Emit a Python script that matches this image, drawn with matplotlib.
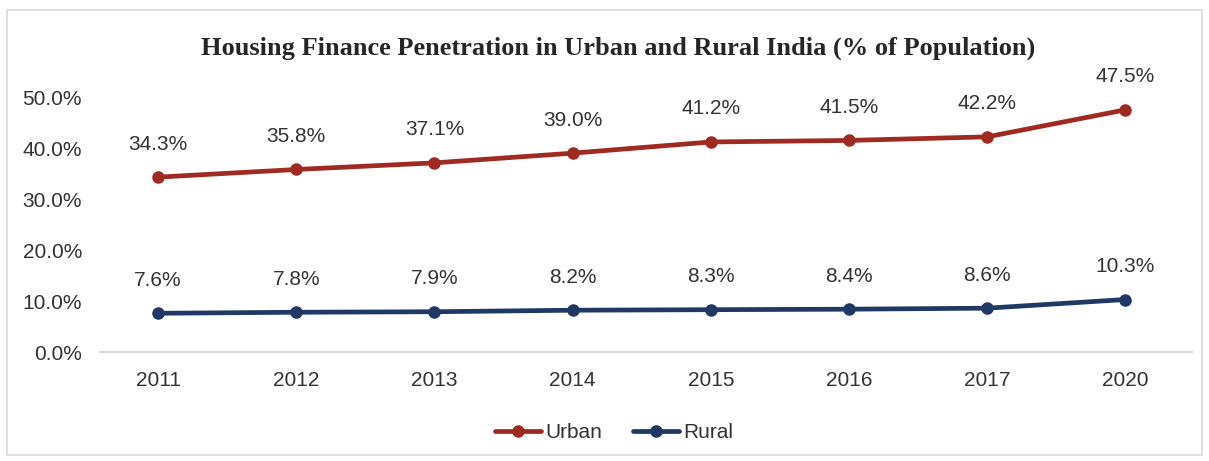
import matplotlib.pyplot as plt
from matplotlib.patches import Rectangle

years = ["2011", "2012", "2013", "2014", "2015", "2016", "2017", "2020"]
urban = [34.3, 35.8, 37.1, 39.0, 41.2, 41.5, 42.2, 47.5]
rural = [7.6, 7.8, 7.9, 8.2, 8.3, 8.4, 8.6, 10.3]
yticks = [0, 10, 20, 30, 40, 50]

plt.rcParams['font.family'] = ['Liberation Sans', 'DejaVu Sans']

fig = plt.figure(figsize=(12.09, 4.61), dpi=100)
ax = fig.add_axes([0.0827, 0.2364, 0.903, 0.553])

# light border round the whole chart
fig.patches.append(Rectangle((0.006, 0.012), 0.988, 0.966, transform=fig.transFigure,
                             fill=False, edgecolor='#d9d9d9', linewidth=1.2))

x = list(range(len(years)))
series = [("Urban", urban, '#9e2a22'), ("Rural", rural, '#1f3864')]
for name, vals, col in series:
    ax.plot(x, vals, color=col, linewidth=3.4, marker='o', markersize=8,
            label=name, solid_capstyle='round')
    for xi, v in zip(x, vals):
        ax.annotate(f"{v:.1f}%", (xi, v), xytext=(0, 17), textcoords='offset points',
                    ha='center', va='bottom', fontsize=15, color='#333333',
                    annotation_clip=False)

ax.set_xlim(-0.42, 7.48)
ax.set_ylim(0, 50)
ax.set_xticks(x)
ax.set_xticklabels(years)
ax.set_yticks(yticks)
ax.set_yticklabels([f"{t:.1f}%" for t in yticks])
ax.tick_params(axis='both', length=0, labelsize=15, labelcolor='#333333')
ax.tick_params(axis='y', pad=13)
ax.tick_params(axis='x', pad=14)

for s in ['top', 'right', 'left']:
    ax.spines[s].set_visible(False)
ax.spines['bottom'].set_color('#d9d9d9')
ax.spines['bottom'].set_linewidth(1.5)

fig.text(0.511, 0.895, "Housing Finance Penetration in Urban and Rural India (% of Population)",
         ha='center', va='center', fontsize=19, fontweight='bold',
         family='Liberation Serif', color='#262626')

fig.legend(loc='center', bbox_to_anchor=(0.508, 0.061), ncol=2, frameon=False,
           fontsize=15, handlelength=2.2, handletextpad=0.2, columnspacing=1.5,
           labelcolor='#333333')

fig.savefig("out.png", dpi=100)
